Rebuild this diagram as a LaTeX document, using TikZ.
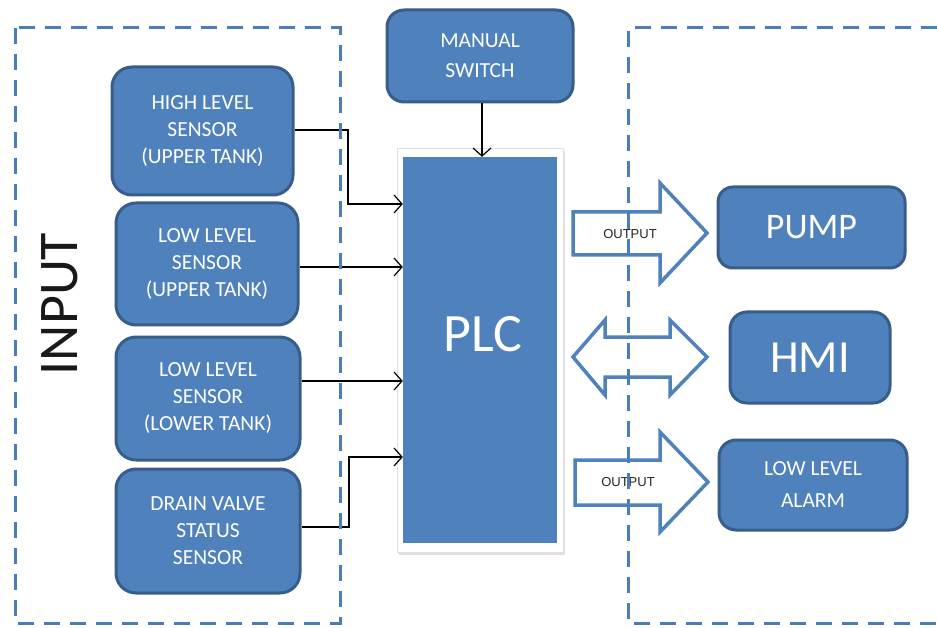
\documentclass[tikz,border=0pt]{standalone}
\usepackage{fontspec}
\setmainfont{Carlito}
\newfontfamily\outfont{Liberation Sans}
\usetikzlibrary{arrows.meta,shadows}
\definecolor{boxblue}{HTML}{4F81BD}
\definecolor{boxedge}{HTML}{385D8A}
\definecolor{dashblue}{HTML}{4A7EBB}
\begin{document}
\begin{tikzpicture}[x=1pt,y=-1pt,
  blk/.style={draw=boxedge, line width=3pt, fill=boxblue, rounded corners=20pt,
    text=white, align=center, inner sep=0pt},
  sens/.style={blk, font=\fontsize{21.5}{27}\selectfont},
  conn/.style={line width=1.2pt, -{Straight Barb[length=8pt,width=18pt]}},
  fat/.style={draw=boxblue, line width=3.5pt, line join=miter},
  grp/.style={draw=dashblue, line width=3pt, dash pattern=on 16pt off 10pt},
  outlbl/.style={font=\outfont\fontsize{13}{15}\selectfont, text=black!85, inner sep=0pt}
]
\useasboundingbox (0,0) rectangle (937,628);
\fill[white] (0,0) rectangle (937,628);

% PLC frame and block
\node[draw=black!12, fill=white, line width=0.8pt,
  drop shadow={opacity=0.25, shadow xshift=1.5pt, shadow yshift=-3pt},
  minimum width=166pt, minimum height=404pt, inner sep=0pt] (plcframe) at (480,350) {};
\node[fill=boxblue, minimum width=154pt, minimum height=386pt, inner sep=0pt] (plc) at (480,350) {};
\node[text=white, font=\fontsize{54}{60}\selectfont, inner sep=0pt] (plctext) at (483,334) {PLC};

% Input sensors
\node[sens, minimum width=181pt, minimum height=128pt] (hls) at (202.5,131) {HIGH LEVEL\\SENSOR\\(UPPER TANK)};
\node[sens, minimum width=182pt, minimum height=122pt] (lsu) at (207,264) {LOW LEVEL\\SENSOR\\(UPPER TANK)};
\node[sens, minimum width=184pt, minimum height=123pt] (lsl) at (208,398.5) {LOW LEVEL\\SENSOR\\(LOWER TANK)};
\node[sens, minimum width=184pt, minimum height=124pt] (dvs) at (208,531) {DRAIN VALVE\\STATUS\\SENSOR};

% Manual switch
\node[blk, rounded corners=17pt, font=\fontsize{21.5}{30}\selectfont,
  minimum width=186pt, minimum height=92pt] (man) at (480,56) {MANUAL\\SWITCH};

% Outputs
\node[blk, rounded corners=15pt, font=\fontsize{36}{40}\selectfont,
  minimum width=187pt, minimum height=81pt] (pump) at (811.5,227.5) {PUMP};
\node[blk, rounded corners=17pt, font=\fontsize{46}{50}\selectfont,
  minimum width=160pt, minimum height=91pt] (hmi) at (810,357.5) {HMI};
\node[blk, rounded corners=17pt, font=\fontsize{21.5}{32}\selectfont,
  minimum width=188pt, minimum height=90pt] (alarm) at (813,485) {LOW LEVEL\\ALARM};

% INPUT label
\node[rotate=90, font=\fontsize{56}{60}\selectfont, text=black!90, inner sep=0pt] (inputlbl) at (60,304) {INPUT};

% Connectors
\draw[conn] (hls.east |- 0,130) -- (348,130) |- (plc.west |- 0,204);
\draw[conn] (lsu.east |- 0,267) -- (plc.west |- 0,267);
\draw[conn] (lsl.east |- 0,381) -- (plc.west |- 0,381);
\draw[conn] (dvs.east |- 0,527) -- (349,527) |- (plc.west |- 0,457);
\draw[conn] (man.south -| 482,0) -- (plc.north -| 482,0);

% Block arrows
\draw[fat] (573,212) -- (660,212) -- (660,183) -- (707,233) -- (660,283) -- (660,255) -- (573,255) -- cycle;
\draw[fat] (573,357) -- (605,320) -- (605,337) -- (670,337) -- (670,320) -- (707,357)
  -- (670,395) -- (670,377) -- (605,377) -- (605,395) -- cycle;
\draw[fat] (575,460) -- (660,460) -- (660,432) -- (708,482) -- (660,532) -- (660,505) -- (575,505) -- cycle;
\node[outlbl] (out1) at (630,234) {OUTPUT};
\node[outlbl] (out2) at (628,482) {OUTPUT};

% Dashed group boxes
\draw[grp] (15,28) rectangle (340,623);
\draw[grp] (937,28) -- (628,28) -- (628,623) -- (937,623);
\end{tikzpicture}
\end{document}
